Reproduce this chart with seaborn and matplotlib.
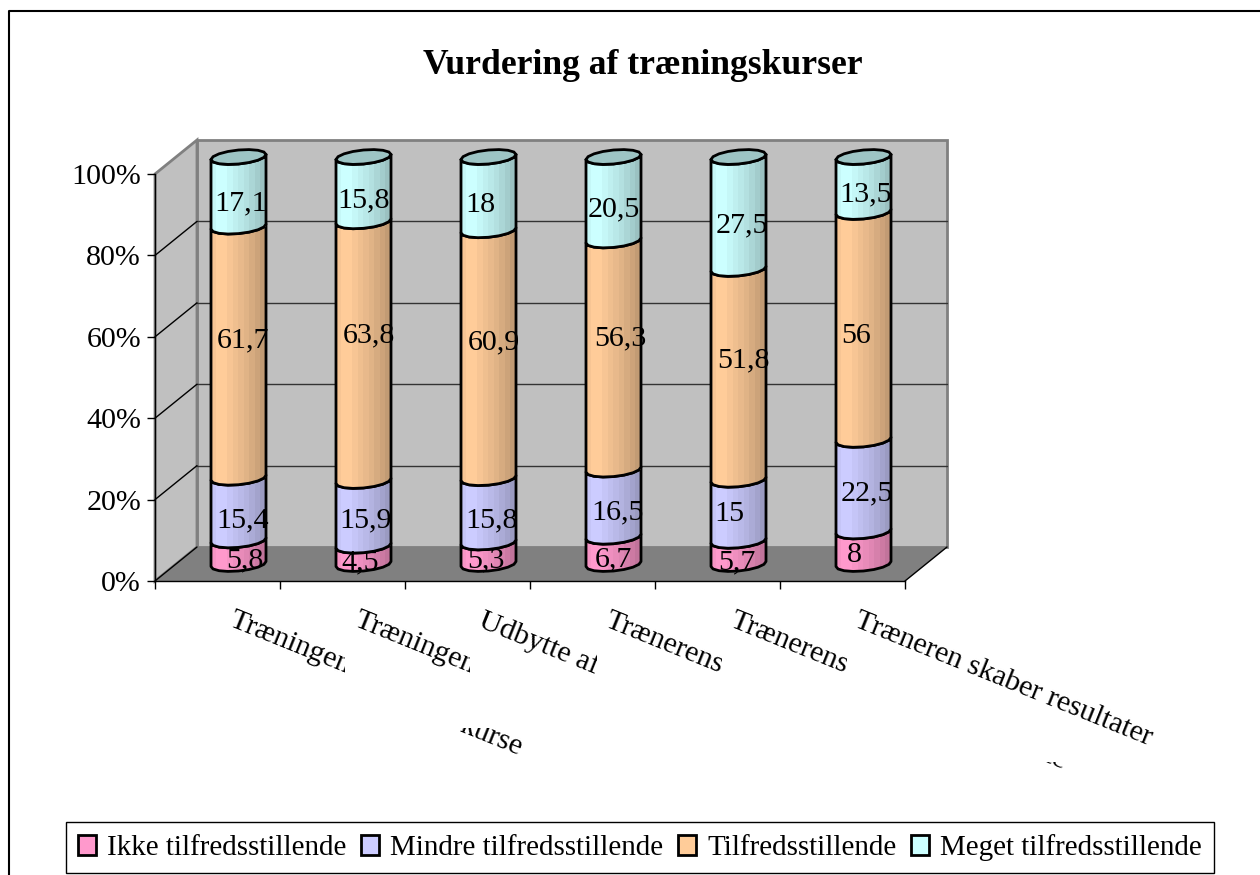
import numpy as np
import matplotlib
matplotlib.use("Agg")
import matplotlib.pyplot as plt
import seaborn as sns
from matplotlib.lines import Line2D
from matplotlib.patches import Patch, Polygon, Rectangle
from matplotlib.transforms import ScaledTranslation

# ---------- data ----------
title = "Vurdering af træningskurser"
tick_labels = ["Træningen", "Træningen", "Udbytte af", "Trænerens", "Trænerens",
               "Træneren skaber resultater"]
series_names = ["Ikke tilfredsstillende", "Mindre tilfredsstillende",
                "Tilfredsstillende", "Meget tilfredsstillende"]
ikke = [5.8, 4.5, 5.3, 6.7, 5.7, 8]
mindre = [15.4, 15.9, 15.8, 16.5, 15, 22.5]
tilfreds = [61.7, 63.8, 60.9, 56.3, 51.8, 56]
meget = [17.1, 15.8, 18, 20.5, 27.5, 13.5]
percent_ticks = [0, 20, 40, 60, 80, 100]
colors = ["#FF99CC", "#CCCCFF", "#FFCC99", "#CCFFFF"]

# ---------- styling / layout ----------
sns.set_style("white")
plt.rcParams["font.family"] = ["Liberation Serif", "DejaVu Serif"]
plt.rcParams["text.color"] = "black"
plt.rcParams["axes.labelcolor"] = "black"
plt.rcParams["xtick.color"] = "black"
plt.rcParams["ytick.color"] = "black"
FS = 21.6
W, H = 1260, 875
PXX, PXY = 1 / 125, 100 / 407          # data units per pixel
DX, DY = 42 * PXX, 34 * PXY            # depth of the 3D box
BAR_W = 55 * PXX
B_ELL, TILT = 7 * PXY, 2.5 * PXY       # cylinder ellipse shape
BANDS = np.array([.97, 1, 1, .97, .94, .91, .88, .84, .8, .76])
LBL_DX = [[6, -3, -3, 0, -2, -9], [4, 2, 3, 4, -9, 3],
          [4, 5, 5, 7, 5, -7], [2, 0, -8, 0, 3, 2]]
LBL_DY = [[8, 8, 7, 9, 10, 7], [11, 7, 10, 9, 4, 8],
          [-12, -16, -12, -17, -14, 10], [12, 11, 11, 11, 12, 10]]
CLIP_R = [345, 470, 597, 722, 847, 1260]


def px(x):
    return (x - 155) * PXX - 0.5


def py(y):
    return (581 - y) * PXY


fig = plt.figure(figsize=(W / 100, H / 100), dpi=100, facecolor="white")
ax = fig.add_axes([155 / W, 1 - 581 / H, 750 / W, 407 / H])
ax.patch.set_visible(False)

positions = np.arange(6)
series = np.array([ikke, mindre, tilfreds, meget], dtype=float)
bottoms = np.vstack([np.zeros(6), np.cumsum(series, axis=0)[:-1]])

# walls and floor
wallkw = dict(closed=True, clip_on=False, zorder=0.5)
x0, x1 = -0.5, 5.5
ax.add_patch(Polygon([(x0 + DX, DY), (x1 + DX, DY), (x1 + DX, 100 + DY), (x0 + DX, 100 + DY)],
                     fc="#C0C0C0", ec="#808080", lw=2, **wallkw))
ax.add_patch(Polygon([(x0, 0), (x0 + DX, DY), (x0 + DX, 100 + DY), (x0, 100)],
                     fc="#C0C0C0", ec="#808080", lw=2, **wallkw))
ax.add_patch(Polygon([(x0, 0), (x1, 0), (x1 + DX, DY), (x0 + DX, DY)],
                     fc="#808080", ec="none", **wallkw))
for v in percent_ticks[1:-1]:
    ax.plot([x0 + DX, x1 + DX], [v + DY, v + DY], color="#333333", lw=1, zorder=0.8, clip_on=False)
for v in percent_ticks[:-1]:
    ax.plot([x0, x0 + DX], [v, v + DY], color="black", lw=1, zorder=0.8, clip_on=False)
ax.plot([x1, x1 + DX], [0, DY], color="black", lw=1, zorder=0.8, clip_on=False)

# stacked cylinders
for s, (vals, bot, col) in enumerate(zip(series, bottoms, colors)):
    n_before = len(ax.patches)
    sns.barplot(x=positions, y=vals, bottom=bot, color=col, saturation=1,
                width=BAR_W, native_scale=True, ax=ax, zorder=2 + s,
                linewidth=0, edgecolor="none", clip_on=False)
    rects = ax.patches[n_before:]
    rgb = np.array(matplotlib.colors.to_rgb(col))
    img = (BANDS[None, :, None] * rgb[None, None, :])
    for i, r in enumerate(rects):
        r.set_x(r.get_x() + DX / 2)
        r.set_y(r.get_y() + DY / 2)
        xa, xb = r.get_x(), r.get_x() + r.get_width()
        yb, yt = r.get_y(), r.get_y() + r.get_height()
        cx, a = (xa + xb) / 2, (xb - xa) / 2
        th = np.linspace(np.pi, 2 * np.pi, 9)
        low = np.c_[cx + a * np.cos(th), yb + B_ELL * np.sin(th) + TILT * np.cos(th)]
        up = np.c_[cx + a * np.cos(th), yt + B_ELL * np.sin(th) + TILT * np.cos(th)][::-1]
        verts = np.vstack([low, up, low[:1]])
        ax.add_patch(Polygon(verts, closed=True, fc="none", ec="black", lw=2,
                             zorder=2.2 + s, clip_on=False, joinstyle="round"))
        im = ax.imshow(img, extent=(xa, xb, yb - B_ELL * 1.3, yt + B_ELL), aspect="auto",
                       interpolation="nearest", zorder=2.1 + s)
        im.set_clip_path(Polygon(verts, closed=True, transform=ax.transData))
        im.set_clip_box(fig.bbox)
        if s == len(series) - 1:
            th2 = np.linspace(0, 2 * np.pi, 17)[:-1]
            top = np.c_[cx + a * np.cos(th2), yt + B_ELL * np.sin(th2) + TILT * np.cos(th2)]
            ax.add_patch(Polygon(top, closed=True, fc=rgb * 0.77, ec="black", lw=2,
                                 zorder=2.3 + s, clip_on=False))
        ax.text(cx + LBL_DX[s][i] * PXX,
                yb + (yt - yb) / 2 - LBL_DY[s][i] * PXY,
                f"{vals[i]:g}".replace(".", ","), ha="center", va="center",
                fontsize=FS, color="black", zorder=10, clip_on=False)

ax.set_xlim(x0, x1)
ax.set_ylim(0, 100)
ax.set_xlabel("")
ax.set_ylabel("")

# axes
for side in ("top", "right"):
    ax.spines[side].set_visible(False)
for side in ("left", "bottom"):
    ax.spines[side].set_visible(True)
    ax.spines[side].set_color("black")
    ax.spines[side].set_linewidth(1)
    ax.spines[side].set_zorder(1)
ax.set_yticks(percent_ticks, labels=[f"{v}%" for v in percent_ticks], fontsize=FS)
ax.tick_params(axis="y", left=True, length=6, width=1, color="black", pad=4)
ax.set_xticks(np.arange(x0, x1 + 0.5, 1), labels=[""] * 7)
ax.tick_params(axis="x", which="major", bottom=True, length=6, width=1, color="black")
ax.set_xticks(positions, labels=tick_labels, minor=True)
ax.tick_params(axis="x", which="minor", bottom=False, length=0, pad=19)
off = ScaledTranslation(18 / 100, 0, fig.dpi_scale_trans)
for lbl, cr in zip(ax.get_xticklabels(minor=True), CLIP_R):
    lbl.set(rotation=-22, ha="left", va="top", rotation_mode="anchor", fontsize=21.6)
    lbl.set_transform(lbl.get_transform() + off)
    lbl.set_clip_path(Rectangle((px(0), py(875)), px(cr) - px(0), py(0) - py(875),
                                transform=ax.transData))
    lbl.set_clip_on(True)

# clipped remnants of the second label lines
for txt, xp, yp, ctop in [("kurse", 466, 712, 728), ("tc", 1050, 742, 762)]:
    t = ax.text(px(xp), py(yp), txt, rotation=-22, ha="left", va="top",
                rotation_mode="anchor", fontsize=21.6)
    t.set_clip_path(Rectangle((px(0), py(875)), px(1260) - px(0), py(ctop) - py(875),
                              transform=ax.transData))
    t.set_clip_on(True)

# chart frame
fig.add_artist(Line2D([9 / W, 9 / W, 1], [0, 1 - 11 / H, 1 - 11 / H], color="black", lw=1.5))

fig.text(643 / W, 1 - 66 / H, title, ha="center", va="center", fontsize=25.6, fontweight="bold")

handles = [Patch(fc=c, ec="black", lw=2) for c in colors]
leg = fig.legend(handles, series_names, ncol=4, loc="center",
                 bbox_to_anchor=(640 / W, 1 - 847.5 / H), fontsize=20.9, frameon=True,
                 fancybox=False, edgecolor="black", framealpha=1,
                 handlelength=0.62, handleheight=0.68, handletextpad=0.38,
                 columnspacing=0.5, borderpad=0.42, borderaxespad=0)
leg.get_frame().set_linewidth(1)

fig.savefig("out.png", dpi=100)
